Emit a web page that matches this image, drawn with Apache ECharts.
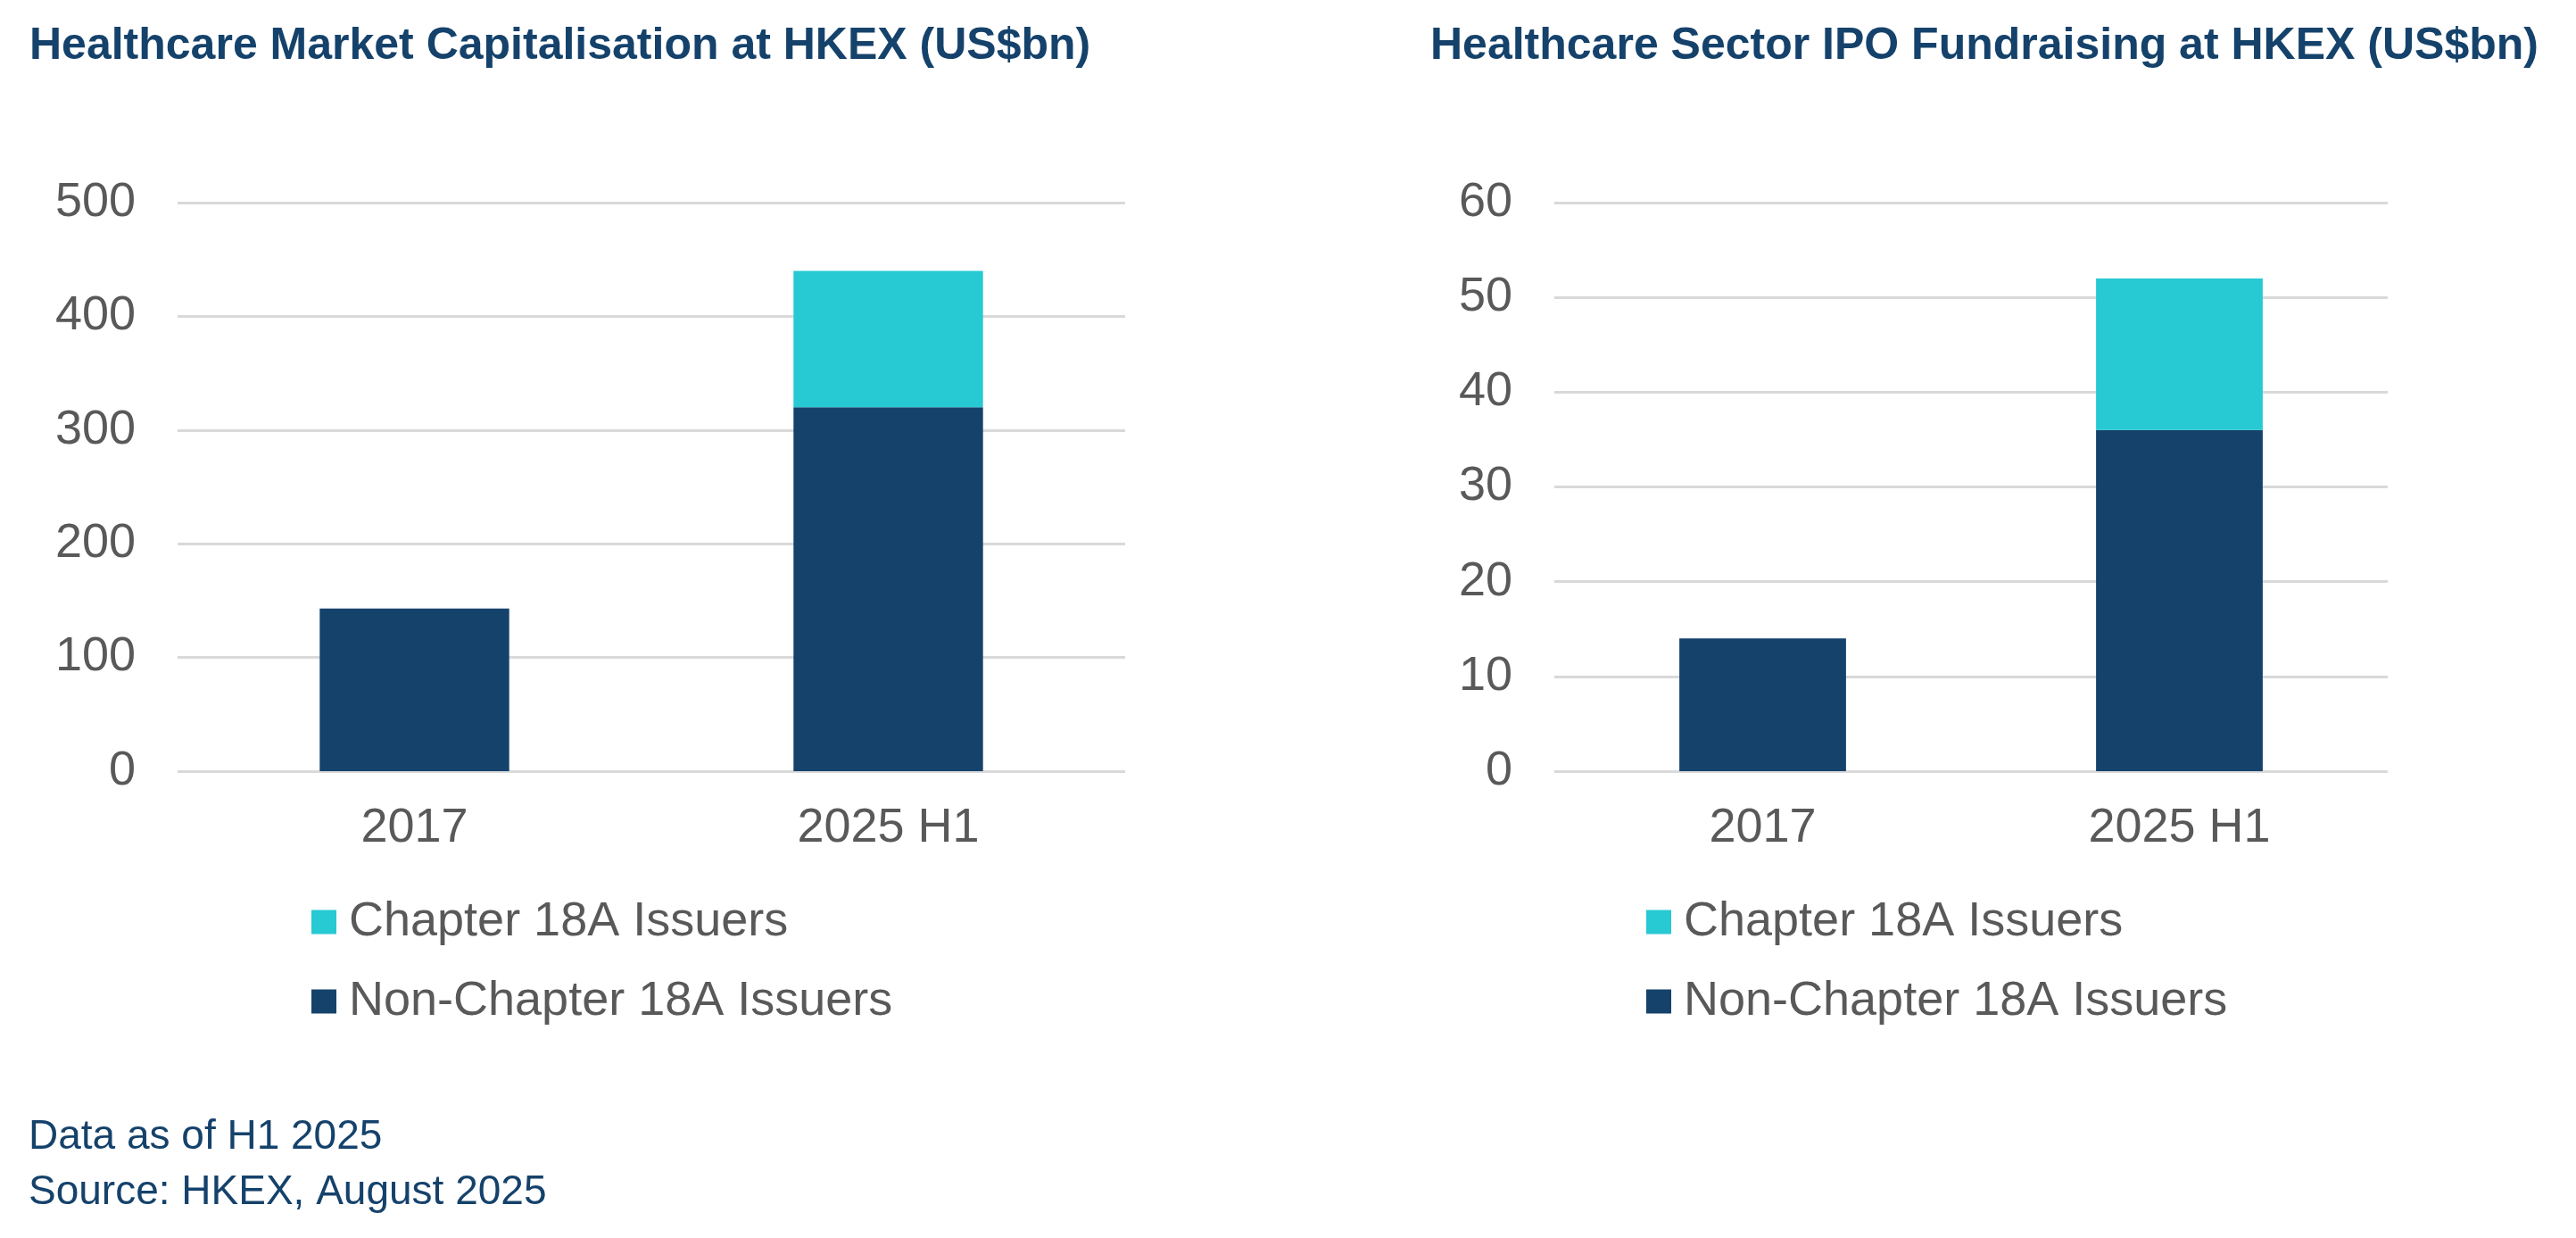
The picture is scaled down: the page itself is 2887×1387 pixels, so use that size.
<!DOCTYPE html>
<html>
<head>
<meta charset="utf-8">
<script src="https://cdn.jsdelivr.net/npm/echarts@6/dist/echarts.min.js"></script>
<style>
html,body{margin:0;padding:0;background:#ffffff;}
#chart{width:2887px;height:1387px;}
</style>
</head>
<body>
<div id="chart"></div>
<script>
// ---- data ----
const categories = ['2017', '2025 H1'];
const seriesNames = ['Chapter 18A Issuers', 'Non-Chapter 18A Issuers'];
// Healthcare Market Capitalisation at HKEX (US$bn)
const mcapNonChapter18A = [143, 320];
const mcapChapter18A = [0, 120];
// Healthcare Sector IPO Fundraising at HKEX (US$bn)
const ipoNonChapter18A = [14, 36];
const ipoChapter18A = [0, 16];
const titles = ['Healthcare Market Capitalisation at HKEX (US$bn)', 'Healthcare Sector IPO Fundraising at HKEX (US$bn)'];
const footnotes = ['Data as of H1 2025', 'Source: HKEX, August 2025'];

const FONT = '"Liberation Sans", Arial, sans-serif';
const NAVY = '#15426b';
const CYAN = '#27c9d3';
const GREY_TEXT = '#595959';
const GRID_LINE = '#d9d9d9';

const chart = echarts.init(document.getElementById('chart'), null, {renderer: 'canvas'});

function yAxisCfg(gridIndex, max, interval) {
  return {
    type: 'value', gridIndex: gridIndex, min: 0, max: max, interval: interval,
    axisLine: {show: false}, axisTick: {show: false},
    axisLabel: {fontFamily: FONT, fontSize: 54, color: GREY_TEXT, margin: 47},
    splitLine: {show: true, lineStyle: {color: GRID_LINE, width: 3}}
  };
}
function xAxisCfg(gridIndex) {
  return {
    type: 'category', gridIndex: gridIndex, data: categories,
    axisLine: {show: false}, axisTick: {show: false},
    axisLabel: {fontFamily: FONT, fontSize: 54, color: GREY_TEXT, margin: 37}
  };
}
function legendCfg(left) {
  return {
    orient: 'vertical', left: left, top: 1006, padding: 0,
    data: seriesNames, icon: 'rect', itemWidth: 28, itemHeight: 27, itemGap: 35,
    selectedMode: false,
    textStyle: {fontFamily: FONT, fontSize: 54, color: GREY_TEXT, padding: [0, 0, 0, 9]}
  };
}
function titleCfg(text, left, top, size, weight) {
  return {text: text, left: left, top: top, padding: 0,
    textStyle: {fontFamily: FONT, fontSize: size, fontWeight: weight, color: NAVY}};
}

const option = {
  backgroundColor: '#ffffff',
  animation: false,
  title: [
    titleCfg(titles[0], 33, 27, 50, 'bold'),
    titleCfg(titles[1], 1603, 27, 50, 'bold'),
    titleCfg(footnotes[0], 32, 1251, 46, 'normal'),
    titleCfg(footnotes[1], 32, 1313, 46, 'normal')
  ],
  legend: [legendCfg(349), legendCfg(1845)],
  grid: [
    {left: 199, right: 1626, top: 227, bottom: 523, containLabel: false},
    {left: 1742, right: 211, top: 227, bottom: 523, containLabel: false}
  ],
  xAxis: [xAxisCfg(0), xAxisCfg(1)],
  yAxis: [yAxisCfg(0, 500, 100), yAxisCfg(1, 60, 10)],
  series: [
    {name: seriesNames[1], type: 'bar', stack: 'a', xAxisIndex: 0, yAxisIndex: 0, barWidth: '40%', data: mcapNonChapter18A, itemStyle: {color: NAVY}},
    {name: seriesNames[0], type: 'bar', stack: 'a', xAxisIndex: 0, yAxisIndex: 0, barWidth: '40%', data: mcapChapter18A, itemStyle: {color: CYAN}},
    {name: seriesNames[1], type: 'bar', stack: 'b', xAxisIndex: 1, yAxisIndex: 1, barWidth: '40%', data: ipoNonChapter18A, itemStyle: {color: NAVY}},
    {name: seriesNames[0], type: 'bar', stack: 'b', xAxisIndex: 1, yAxisIndex: 1, barWidth: '40%', data: ipoChapter18A, itemStyle: {color: CYAN}}
  ]
};
chart.setOption(option);
</script>
</body>
</html>
